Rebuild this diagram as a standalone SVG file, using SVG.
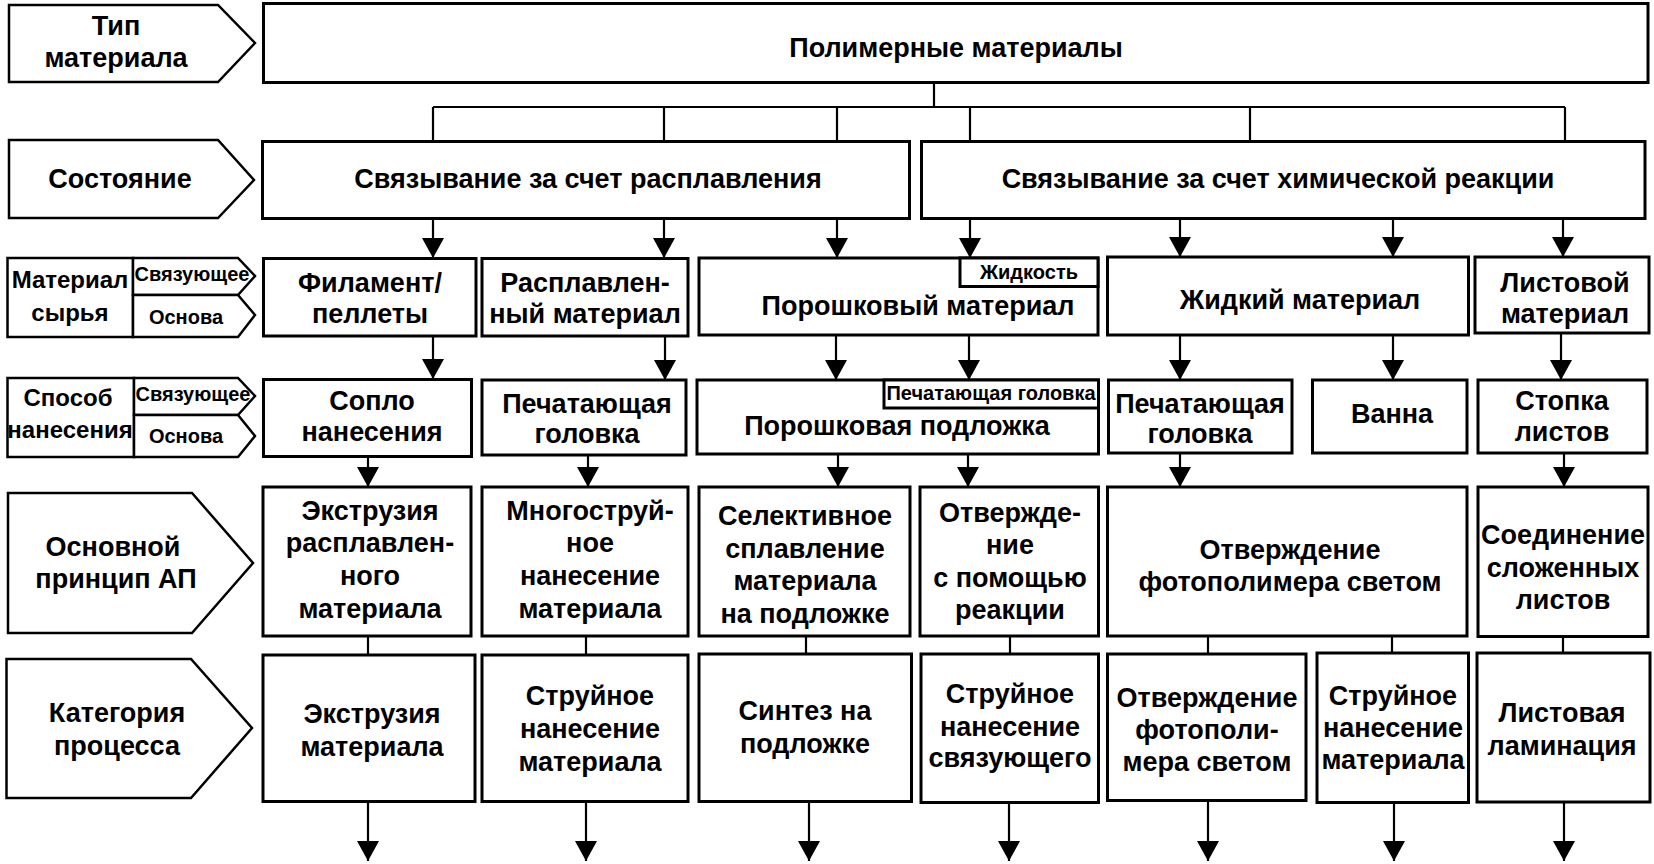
<svg xmlns="http://www.w3.org/2000/svg" width="1654" height="864" viewBox="0 0 1654 864">
<style>
.box{fill:#fff;stroke:#000;stroke-width:3}
.lb{fill:#fff;stroke:#000;stroke-width:2.5;stroke-linejoin:miter}
.ln{fill:none;stroke:#000;stroke-width:2.2}
.ar{fill:none;stroke:#000;stroke-width:2.2;marker-end:url(#ah)}
text{font-family:"Liberation Sans",Arial,sans-serif;font-weight:bold;font-size:27px;text-anchor:middle;fill:#000}
.s{font-size:20px}
.m{font-size:24px}
.r{font-size:27px}
</style>
<defs>
<marker id="ah" markerUnits="userSpaceOnUse" markerWidth="22" markerHeight="22" viewBox="0 0 22 22" refX="20" refY="11" orient="auto">
<path d="M0,0 L20,11 L0,22 z" fill="#000"/>
</marker>
</defs>
<rect width="1654" height="864" fill="#fff"/>
<g id="connectors">
<path class="ln" d="M934,83 V107 M433,107 H1565 M433,107 V142 M664,107 V142 M837,107 V142 M970,107 V142 M1250,107 V142 M1565,107 V142"/>
<path class="ar" d="M433,218 V258"/>
<path class="ar" d="M664,218 V258"/>
<path class="ar" d="M837,218 V258"/>
<path class="ar" d="M970,218 V258"/>
<path class="ar" d="M1180,218 V257"/>
<path class="ar" d="M1393,218 V257"/>
<path class="ar" d="M1563,218 V257"/>
<path class="ar" d="M433,336 V379"/>
<path class="ar" d="M665,336 V380"/>
<path class="ar" d="M836,335 V380"/>
<path class="ar" d="M969,335 V380"/>
<path class="ar" d="M1180,335 V380"/>
<path class="ar" d="M1393,335 V380"/>
<path class="ar" d="M1561,333 V380"/>
<path class="ar" d="M368,456 V487"/>
<path class="ar" d="M588,455 V487"/>
<path class="ar" d="M838,454 V487"/>
<path class="ar" d="M968,454 V487"/>
<path class="ar" d="M1180,453 V487"/>
<path class="ar" d="M1564,453 V487"/>
<path class="ln" d="M368,636 V655 M586,636 V655 M806,636 V654 M1010,636 V654 M1208,636 V654 M1392,632 V653 M1563,636 V653"/>
<path class="ar" d="M368,802 V861"/>
<path class="ar" d="M586,802 V861"/>
<path class="ar" d="M809,802 V861"/>
<path class="ar" d="M1009,803 V861"/>
<path class="ar" d="M1208,801 V861"/>
<path class="ar" d="M1394,803 V861"/>
<path class="ar" d="M1564,802 V861"/>
</g>
<g id="lbl-type"><polygon class="lb" points="9,5 218,5 255,43 218,82 9,82"/><text x="116" y="35">Тип</text><text x="116" y="67">материала</text></g>
<g id="lbl-state"><polygon class="lb" points="9,140 218,140 254,180 218,218 9,218"/><text x="120" y="188">Состояние</text></g>
<g id="lbl-raw"><rect class="lb" x="7.5" y="258" width="125.5" height="79"/><polygon class="lb" points="133,258 238,258 255,276 238,295 133,295"/><polygon class="lb" points="133,295 238,295 255,315 238,337 133,337"/><text class="m" x="70" y="288">Материал</text><text class="m" x="70" y="321">сырья</text><text class="s" x="192" y="281">Связующее</text><text class="s" x="186" y="324">Основа</text></g>
<g id="lbl-method"><rect class="lb" x="7.5" y="378" width="126.5" height="79"/><polygon class="lb" points="134,378 238,378 255,396 238,415 134,415"/><polygon class="lb" points="134,415 238,415 255,436 238,457 134,457"/><text class="m" x="68" y="406">Способ</text><text class="m" x="70" y="438">нанесения</text><text class="s" x="193" y="401">Связующее</text><text class="s" x="186" y="443">Основа</text></g>
<g id="lbl-principle"><polygon class="lb" points="8,493 192,493 253,563 192,633 8,633"/><text x="113" y="556">Основной</text><text x="116" y="588">принцип АП</text></g>
<g id="lbl-category"><polygon class="lb" points="6.5,659 191,659 252,728 191,798 6.5,798"/><text x="117" y="722">Категория</text><text x="117" y="755">процесса</text></g>
<g id="n-polymer"><rect class="box" x="263.5" y="3.5" width="1384.5" height="79"/><text class="r" x="956" y="57">Полимерные материалы</text></g>
<g id="n-melt"><rect class="box" x="262.5" y="141.5" width="647" height="77"/><text x="588" y="188">Связывание за счет расплавления</text></g>
<g id="n-chem"><rect class="box" x="921.5" y="141.5" width="723.5" height="77"/><text x="1278" y="188">Связывание за счет химической реакции</text></g>
<g id="n-filament"><rect class="box" x="263.5" y="258.5" width="212.5" height="77.5"/><text x="370" y="292">Филамент/</text><text x="370" y="323">пеллеты</text></g>
<g id="n-molten"><rect class="box" x="482" y="258.5" width="206" height="77.5"/><text x="585" y="292">Расплавлен-</text><text x="585" y="323">ный материал</text></g>
<g id="n-powder"><rect class="box" x="699" y="258" width="399" height="77"/><rect class="box" x="960" y="258" width="138" height="28.5"/><text class="s" x="1029" y="279">Жидкость</text><text x="918" y="315">Порошковый материал</text></g>
<g id="n-liquid"><rect class="box" x="1107.5" y="257" width="361" height="78"/><text x="1300" y="309">Жидкий материал</text></g>
<g id="n-sheet"><rect class="box" x="1475" y="257" width="174" height="76"/><text x="1565" y="292">Листовой</text><text x="1565" y="323">материал</text></g>
<g id="n-nozzle"><rect class="box" x="263.5" y="379.5" width="208" height="77"/><text x="372" y="410">Сопло</text><text x="372" y="441">нанесения</text></g>
<g id="n-head1"><rect class="box" x="482" y="380" width="204" height="75"/><text x="587" y="413">Печатающая</text><text x="587" y="443">головка</text></g>
<g id="n-bed"><rect class="box" x="697" y="380" width="401.5" height="74"/><rect class="box" x="884" y="380" width="214.5" height="28"/><text class="s" x="991" y="400">Печатающая головка</text><text x="897" y="435">Порошковая подложка</text></g>
<g id="n-head2"><rect class="box" x="1108.5" y="380" width="183.5" height="73"/><text x="1200" y="413">Печатающая</text><text x="1200" y="443">головка</text></g>
<g id="n-vat"><rect class="box" x="1312.5" y="380" width="154.5" height="73"/><text x="1392" y="423">Ванна</text></g>
<g id="n-stack"><rect class="box" x="1478" y="380" width="169" height="73"/><text x="1562" y="410">Стопка</text><text x="1562" y="441">листов</text></g>
<g id="p-extr"><rect class="box" x="263" y="487" width="208" height="149"/><text x="370" y="520">Экструзия</text><text x="370" y="552">расплавлен-</text><text x="370" y="585">ного</text><text x="370" y="618">материала</text></g>
<g id="p-multijet"><rect class="box" x="482" y="487" width="206" height="149"/><text x="590" y="520">Многоструй-</text><text x="590" y="552">ное</text><text x="590" y="585">нанесение</text><text x="590" y="618">материала</text></g>
<g id="p-sls"><rect class="box" x="699" y="487" width="211" height="149"/><text x="805" y="525">Селективное</text><text x="805" y="558">сплавление</text><text x="805" y="590">материала</text><text x="805" y="623">на подложке</text></g>
<g id="p-react"><rect class="box" x="920" y="487" width="178.5" height="149"/><text x="1010" y="522">Отвержде-</text><text x="1010" y="554">ние</text><text x="1010" y="587">с помощью</text><text x="1010" y="619">реакции</text></g>
<g id="p-photo"><rect class="box" x="1107.5" y="487" width="359.5" height="149"/><text x="1290" y="559">Отверждение</text><text x="1290" y="591">фотополимера светом</text></g>
<g id="p-lam"><rect class="box" x="1478" y="487" width="170" height="149.5"/><text x="1563" y="544">Соединение</text><text x="1563" y="577">сложенных</text><text x="1563" y="609">листов</text></g>
<g id="c-mex"><rect class="box" x="263" y="655" width="212" height="146.5"/><text x="372" y="723">Экструзия</text><text x="372" y="756">материала</text></g>
<g id="c-mj"><rect class="box" x="482" y="655" width="206" height="146.5"/><text x="590" y="705">Струйное</text><text x="590" y="738">нанесение</text><text x="590" y="771">материала</text></g>
<g id="c-pbf"><rect class="box" x="699" y="654" width="212.5" height="147.5"/><text x="805" y="720">Синтез на</text><text x="805" y="753">подложке</text></g>
<g id="c-bj"><rect class="box" x="921" y="654" width="177.5" height="148.5"/><text x="1010" y="703">Струйное</text><text x="1010" y="736">нанесение</text><text x="1010" y="767">связующего</text></g>
<g id="c-vp"><rect class="box" x="1107.5" y="654" width="198.5" height="146.5"/><text x="1207" y="707">Отверждение</text><text x="1207" y="739">фотополи-</text><text x="1207" y="771">мера светом</text></g>
<g id="c-mj2"><rect class="box" x="1317" y="653" width="151.5" height="149.5"/><text x="1393" y="705">Струйное</text><text x="1393" y="737">нанесение</text><text x="1393" y="769">материала</text></g>
<g id="c-sl"><rect class="box" x="1477" y="653" width="173" height="149"/><text x="1562" y="722">Листовая</text><text x="1562" y="755">ламинация</text></g>
</svg>
